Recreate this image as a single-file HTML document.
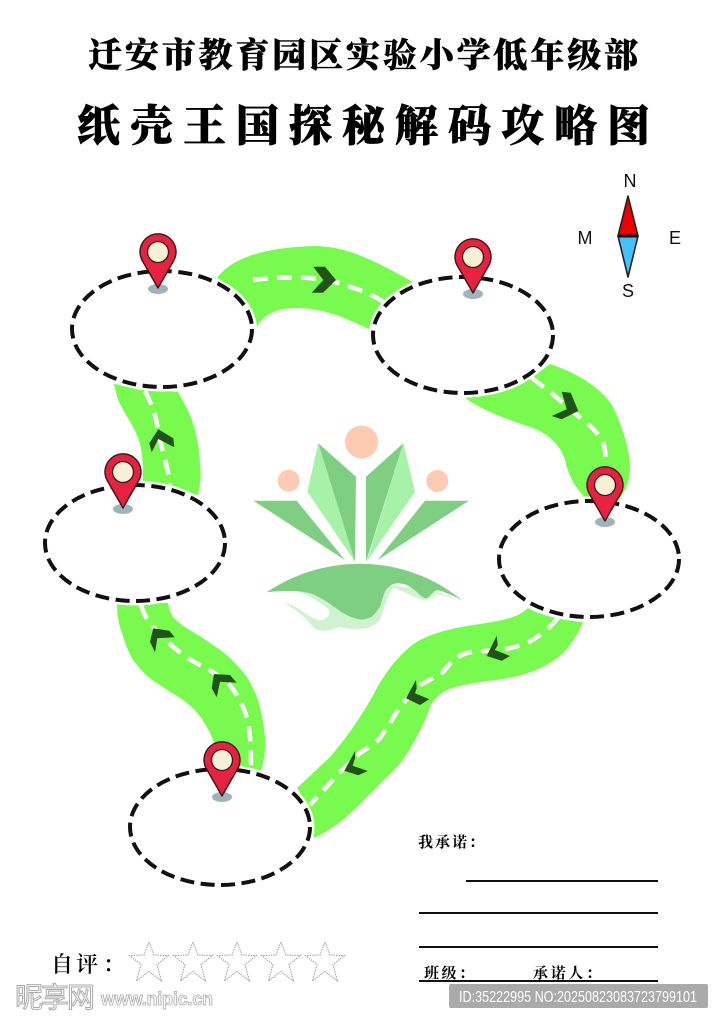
<!DOCTYPE html>
<html lang="zh">
<head>
<meta charset="utf-8">
<style>
html,body{margin:0;padding:0;background:#fff}
svg{display:block}
text{font-family:"Liberation Sans","Noto Sans CJK SC",sans-serif}
.s{font-family:"Liberation Serif","Noto Serif CJK SC",serif;font-weight:900;fill:#000}
.road{fill:#78fa4e}
.dash{fill:none;stroke:#fff;stroke-width:4.5;stroke-dasharray:15 9}
.el{fill:#fff;stroke:#fff;stroke-width:9}
.eld{fill:none;stroke:#111;stroke-width:4;stroke-dasharray:14 6.5}
.dk{fill:#7fcf82}
.lt{fill:#a6f2a9}
.pe{fill:#fdcbb2}
.ch{fill:#23511a}
</style>
</head>
<body>
<svg width="722" height="1024" viewBox="0 0 722 1024" xmlns="http://www.w3.org/2000/svg">
<defs>
<g id="pin">
<ellipse cx="0" cy="37" rx="10" ry="5" fill="#8fa6ae" opacity=".85"/>
<path d="M0 36L-15.500 9A18 18 0 1 1 15.500 9Z" fill="#e8213f" stroke="#33181d" stroke-width="1.400" stroke-linejoin="round"/>
<circle cx="0" cy="0" r="10.500" fill="#f5f0d6" stroke="#33181d" stroke-width="1.300"/>
</g>
<polygon id="star" points="0,-20 5,-7 19.500,-6.500 8,2.500 12.500,19 0,9.500 -12.500,19 -8,2.500 -19.500,-6.500 -5,-7" fill="#fff" stroke="#999" stroke-width="1" stroke-dasharray="1.500 1"/>
</defs>

<text class="s" x="88" y="67" font-size="34" textLength="550" lengthAdjust="spacing" stroke="#000" stroke-width=".4">迁安市教育园区实验小学低年级部</text>
<text class="s" x="77" y="141" font-size="43" textLength="573" lengthAdjust="spacing" stroke="#000" stroke-width=".7">纸壳王国探秘解码攻略图</text>

<!-- roads -->
<path class="road" d="M217 278C232 258 262 248 313 246C345 246 370 258 413 282C395 290 376 305 369 329C345 318 325 308 297 308C280 308 265 312 257 327C255 305 240 292 217 278Z"/>
<path class="road" d="M465 398C490 396 520 388 550 364C580 374 600 388 612 405C622 425 630 450 630 467C630 482 625 495 613 505L588 500C576 490 568 475 565 460C560 445 550 435 533 428C510 420 485 412 465 398Z"/>
<path class="road" d="M528 608C518 618 500 621 480 624C460 627 440 630 420 640C405 648 388 668 377 688C368 705 352 732 330 757L297 788C305 800 312 815 314 838C332 830 350 815 367 797L397 767C410 752 424 725 430 707C436 695 447 688 460 686C480 681 500 680 513 677C535 673 560 660 570 645C577 635 580 630 583 622C560 620 540 615 528 608Z"/>
<path class="road" d="M117 603C117 613 118 620 120 627C124 640 128 652 133 660C142 672 150 679 157 683C168 691 178 696 187 703C198 712 208 725 215 745L222 772L261 772C264 760 266 750 265 737C264 725 262 716 260 707C257 695 252 686 247 677C240 668 232 659 223 652C212 644 203 638 193 632C184 627 178 622 173 617C170 612 169 608 168 603Z"/>
<path class="road" d="M114 384L118 400C123 410 128 418 133 427C138 436 141 445 142 455C143 465 143 475 143 484L198 495C201 482 201 472 200 463C198 430 190 412 178 392L114 384Z"/>

<!-- dashes -->
<path class="dash" d="M253 280C285 276 320 276 345 285C360 290 375 295 386 304"/>
<path class="dash" d="M532 378L550 392C560 400 568 408 577 415C588 423 595 430 600 437C605 444 606 452 605 462"/>
<path class="dash" d="M558 618C550 628 540 636 527 643C515 648 505 649 497 650C485 651 475 651 467 653C460 655 457 658 453 660L443 672C435 677 428 681 420 685C412 693 406 700 400 707C393 718 387 728 380 738C373 745 366 749 360 753C353 759 347 766 340 772L310 805"/>
<path class="dash" d="M141 605C143 612 146 618 150 623C158 633 167 642 177 650C184 656 192 661 200 665C210 670 218 675 227 682C234 689 238 697 243 707C247 716 249 726 250 737C251 748 251 757 251 768"/>
<path class="dash" d="M145 391C152 405 156 415 158 430C160 445 168 465 170 485"/>

<!-- arrows -->
<polygon class="ch" points="313.300,266.700 325,266.700 336,280 323,292.700 311.700,292.700 323.300,280"/>
<polygon class="ch" points="561.700,391.700 570.700,392.700 578.300,411 561.700,419.300 551.700,416 566.700,409.300"/>
<polygon class="ch" points="158.300,429.300 173.300,438.300 174.300,447.300 158.300,439 151.700,452.300 149.300,443.300"/>
<polygon class="ch" points="153.300,628.300 150,641.700 155,652.300 157.300,638.300 174.700,637.300 169.300,630.700"/>
<polygon class="ch" points="214,674 211.700,688.300 216.700,697.300 220,681.700 236.700,682.700 230,675"/>
<polygon class="ch" points="496.700,635.700 486.700,656 501.700,660.700 510,656 495,650 497.700,645"/>
<polygon class="ch" points="416,680 406,698.300 420,705 429.300,699.300 415,693.300 416.700,688.300"/>
<polygon class="ch" points="355.300,750.700 344.300,770.700 358.300,775.300 367.700,771 352.700,765.700 355,758.300"/>

<!-- ellipses -->
<ellipse class="el" cx="162" cy="329" rx="90" ry="58"/>
<ellipse class="el" cx="463" cy="335" rx="90" ry="58"/>
<ellipse class="el" cx="589" cy="559" rx="90" ry="58"/>
<ellipse class="el" cx="135" cy="543" rx="90" ry="58"/>
<ellipse class="el" cx="220" cy="827" rx="90" ry="58"/>
<ellipse class="eld" cx="162" cy="329" rx="90" ry="58"/>
<ellipse class="eld" cx="463" cy="335" rx="90" ry="58"/>
<ellipse class="eld" cx="589" cy="559" rx="90" ry="58"/>
<ellipse class="eld" cx="135" cy="543" rx="90" ry="58"/>
<ellipse class="eld" cx="220" cy="827" rx="90" ry="58"/>

<!-- pins -->
<use href="#pin" transform="translate(158 252)"/>
<use href="#pin" transform="translate(473 257)"/>
<use href="#pin" transform="translate(605 485)"/>
<use href="#pin" transform="translate(123 472)"/>
<use href="#pin" transform="translate(222 760)"/>

<!-- logo -->
<circle class="pe" cx="361.500" cy="442" r="16.500"/>
<circle class="pe" cx="288.700" cy="480.700" r="11"/>
<circle class="pe" cx="437.300" cy="481" r="11"/>
<polygon class="dk" points="253.300,500.700 296.700,500.700 345,560"/>
<polygon class="dk" points="469,500.700 425,500.700 377.700,560"/>
<polygon class="lt" points="318.300,443.300 307.300,491.700 355,561.700"/>
<polygon class="dk" points="318.300,443.300 356,476.700 355,561.700"/>
<polygon class="dk" points="403.300,443.300 366,476.700 366,561.700"/>
<polygon class="lt" points="403.300,443.300 415,491.700 366.700,561.700"/>
<path d="M283.300 602.700C298 605 306 616 318 620C326 621 331 615 329 610C322 603 310 596 297 591L340 580L430 590L462.700 600.700L436.700 594L426.700 600C415 600 405 590 393 588C388 595 385 605 380 620C370 632 350 630 340 626.700C332 630 320 634 313 626.700C305 618 298 610 283.300 602.700Z" fill="#cff3cf"/>
<path class="dk" d="M266.700 592.300C325 553 405 553 462.700 600.700C455 596 449 594 443.300 591.700C440 590 437 590 435 591C432 593 429 597 426.700 598.300C424 598 422 597 420 595C416 591 411 587 406.700 585C402 583 397 583 393.300 584C389 586 387 588 385 591.700C383 596 382 601 380 606.700C377 611 375 614 371.700 616.700C367 619 362 620 358.300 619.300C353 618 348 616 343.300 613.300L326.700 601.700C321 598 315 595 310 593.300C302 591 294 591 286.700 591C279 591 273 591.500 266.700 592.300Z"/>

<!-- compass -->
<polygon points="628,196 618,236 638,236" fill="#ee0000" stroke="#222" stroke-width="1.600" stroke-linejoin="round"/>
<polygon points="628,277 618,236 638,236" fill="#45c1fb" stroke="#222" stroke-width="1.600" stroke-linejoin="round"/>
<line x1="618" y1="236" x2="638" y2="236" stroke="#111" stroke-width="3"/>
<text x="630" y="187" font-size="18" text-anchor="middle" fill="#111">N</text>
<text x="585" y="244" font-size="18" text-anchor="middle" fill="#111">M</text>
<text x="675" y="244" font-size="18" text-anchor="middle" fill="#111">E</text>
<text x="628" y="297" font-size="18" text-anchor="middle" fill="#111">S</text>

<!-- promise -->
<text class="s" x="418" y="847" font-size="15" style="font-weight:700" textLength="66">我承诺：</text>
<g stroke="#111" stroke-width="2">
<line x1="466" y1="881" x2="658" y2="881"/>
<line x1="419" y1="913" x2="658" y2="913"/>
<line x1="419" y1="947" x2="658" y2="947"/>
<line x1="419" y1="981" x2="658" y2="981"/>
</g>
<text class="s" x="424" y="978" font-size="15" style="font-weight:700" textLength="50">班级：</text>
<text class="s" x="533" y="978" font-size="15" style="font-weight:700" textLength="68">承诺人：</text>

<!-- self review -->
<text class="s" x="51 76 103" y="972" font-size="22" style="font-weight:600">自评：</text>
<use href="#star" transform="translate(149 962)"/>
<use href="#star" transform="translate(193 962)"/>
<use href="#star" transform="translate(237 962)"/>
<use href="#star" transform="translate(281 962)"/>
<use href="#star" transform="translate(325 962)"/>

<!-- watermark -->
<text x="15" y="1007" font-size="28" fill="#fff" stroke="#aaa" stroke-width="1" textLength="80">昵享网</text>
<text x="101" y="1005" font-size="18" font-weight="700" fill="#fff" stroke="#aaa" stroke-width=".8" textLength="112">www.nipic.cn</text>
<rect x="449" y="984" width="259" height="24" rx="2" fill="#aaaaaa"/>
<text x="459" y="1002" font-size="16" fill="#fff" textLength="238" lengthAdjust="spacingAndGlyphs">ID:35222995 NO:20250823083723799101</text>
</svg>
</body>
</html>
